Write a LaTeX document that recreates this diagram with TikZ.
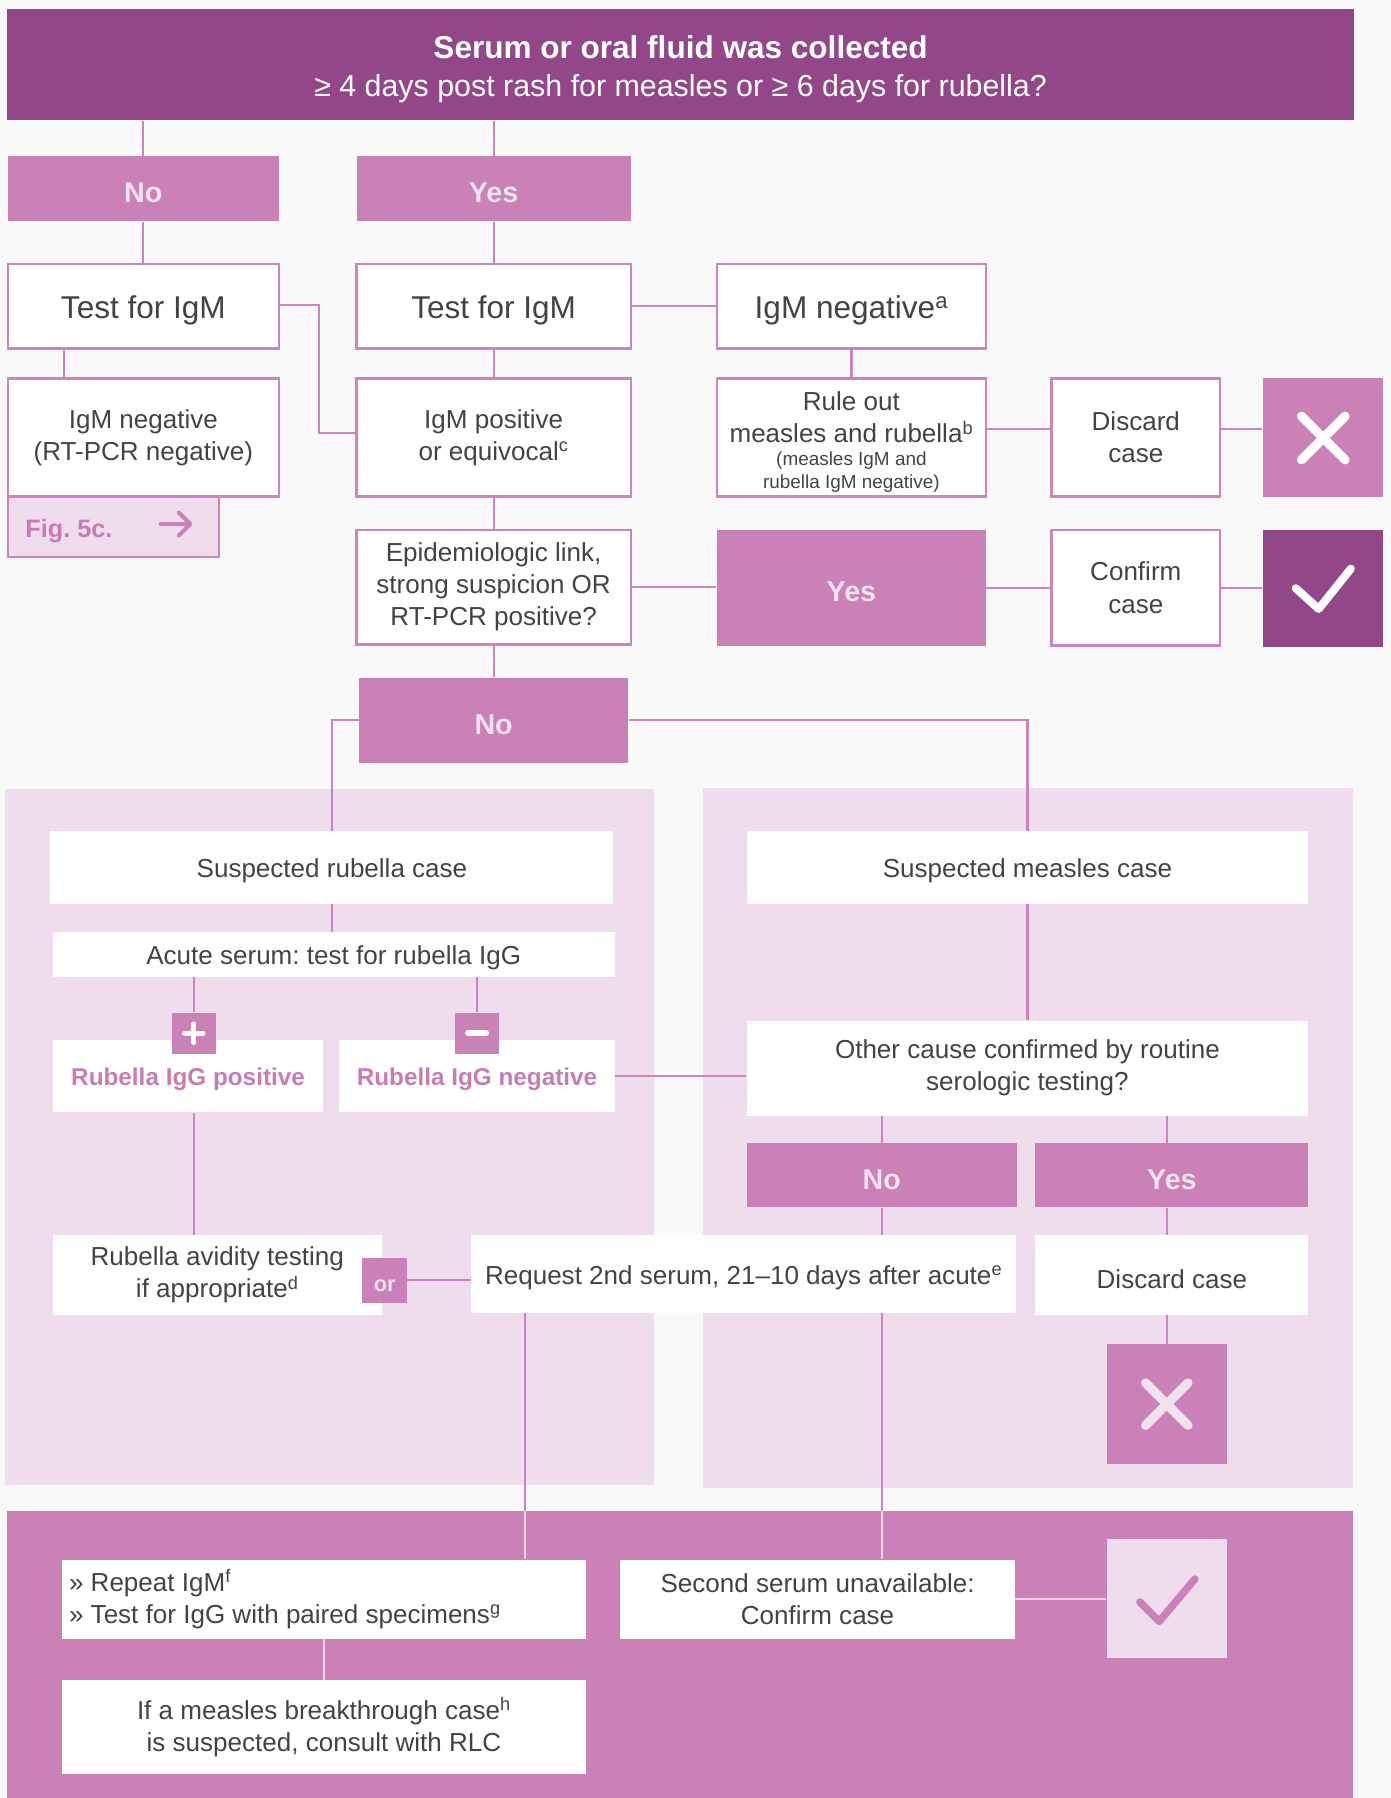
\documentclass[tikz,border=0pt]{standalone}
\usepackage{fontspec}
\setmainfont{Liberation Sans}
\frenchspacing
\definecolor{plum}{HTML}{924789}
\definecolor{orchid}{HTML}{C981B6}
\definecolor{blush}{HTML}{EFDDEE}
\definecolor{paper}{HTML}{F9F9F9}
\definecolor{ink}{HTML}{434343}
\definecolor{edge}{HTML}{CC85BC}
\definecolor{tagtext}{HTML}{F2E2EF}
\definecolor{pinktext}{HTML}{C77DB3}
\definecolor{softlink}{HTML}{EBD3E6}
\newcommand\sizeL{\fontsize{27.5}{32}\selectfont}
\newcommand\sizeM{\fontsize{22.7}{28}\selectfont}
\newcommand\sizeS{\fontsize{16.5}{21}\selectfont}
\tikzset{
  box/.style={inner sep=0pt, align=center, text=ink, font=\sizeM,
    execute at begin node={\rule{0pt}{1em}}},
  framed/.style={box, draw=edge, line width=2pt, fill=white},
  plain/.style={box, fill=white},
  tag/.style={box, fill=orchid, text=tagtext, font=\bfseries\fontsize{25}{30}\selectfont},
  iconbox/.style={inner sep=0pt, fill=orchid},
  link/.style={draw=edge, line width=2pt},
  softline/.style={draw=softlink, line width=2pt},
  glyph/.style={line width=8pt, line cap=round, line join=round},
  pinkbold/.style={box, text=pinktext, font=\bfseries\fontsize{21.2}{26}\selectfont},
}
\begin{document}
\begin{tikzpicture}[x=1pt,y=-1pt]
\useasboundingbox (0,0) rectangle (1213,1568);
\fill[paper] (0,0) rectangle (1213,1568);

% background panels
\fill[blush] (4,688) rectangle (570,1295);
\fill[blush] (613,687) rectangle (1180,1298);
\fill[orchid] (6,1318) rectangle (1180,1568);

% header
\node[inner sep=0pt, align=center, fill=plum, text=white, minimum width=1175, minimum height=97,
  font=\fontsize{26.5}{33}\selectfont]
  (banner) at (593.5,56.5)
  {{\rule{0pt}{28pt}\bfseries\fontsize{27.5}{33}\selectfont Serum or oral fluid was collected}\\
   {\fontsize{26.5}{33}\selectfont ≥ 4 days post rash for measles or ≥ 6 days for rubella?}};

% first decision row
\node[tag, minimum width=236, minimum height=57] (noA) at (125,164.5) {No};
\node[tag, minimum width=239, minimum height=57] (yesA) at (430.5,164.5) {Yes};

\node[framed, font=\sizeL, minimum width=236, minimum height=74] (testL) at (125,267) {Test for IgM};
\node[framed, font=\sizeL, minimum width=239, minimum height=74] (testC) at (430.5,267) {Test for IgM};
\node[framed, font=\sizeL, minimum width=235, minimum height=74] (negA) at (742.5,267) {IgM negative\textsuperscript{a}};

\node[framed, minimum width=236, minimum height=103] (negL) at (125,381.5) {IgM negative\\(RT-PCR negative)};
\node[framed, fill=blush, minimum width=184, minimum height=53] (fig) at (99,459.5) {};
\node[box, anchor=west, text=pinktext, font=\bfseries\fontsize{22}{26}\selectfont] (figtext) at (22,460) {Fig. 5c.};
\draw[orchid, line width=3.5pt, line cap=round, line join=round]
  (140,457) -- (166,457) (156,447) -- (166,457) -- (156,467);

\node[framed, minimum width=239, minimum height=103] (posC) at (430.5,381.5) {IgM positive\\or equivocal\textsuperscript{c}};
\node[framed, minimum width=235, minimum height=103] (rule) at (742.5,381.5)
  {\rule{0pt}{25pt}Rule out\\measles and rubella\textsuperscript{b}\\[-8pt]{\sizeS (measles IgM and}\\[-8pt]{\sizeS rubella IgM negative)}};
\node[framed, minimum width=147, minimum height=103] (disc1) at (990.5,381.5) {Discard\\case};
\node[iconbox, minimum width=105, minimum height=103] (xbox1) at (1153.5,381.5) {};
\draw[glyph, white] (1135,363) -- (1173,401) (1173,363) -- (1135,401);

\node[framed, minimum width=239, minimum height=100] (epi) at (430.5,512)
  {Epidemiologic link,\\strong suspicion OR\\RT-PCR positive?};
\node[tag, minimum width=235, minimum height=101] (yesB) at (742.5,512.5) {Yes};
\node[framed, minimum width=147, minimum height=101] (conf) at (990.5,512.5) {Confirm\\case};
\node[inner sep=0pt, fill=plum, minimum width=105, minimum height=102] (chk1) at (1153.5,513) {};
\draw[glyph, white, line width=7pt] (1130,513) -- (1150,531) -- (1178,496);

\node[tag, minimum width=235, minimum height=74] (noB) at (430.5,628) {No};

% rubella branch
\node[plain, minimum width=491, minimum height=63] (susR) at (289.5,756.5) {Suspected rubella case};
\node[plain, minimum width=490, minimum height=39] (acute) at (291,832.5) {Acute serum: test for rubella IgG};
\node[plain, pinkbold, minimum width=236, minimum height=63] (rpos) at (164,938.5) {Rubella IgG positive};
\node[plain, pinkbold, minimum width=240, minimum height=63] (rneg) at (416,938.5) {Rubella IgG negative};
\node[iconbox, minimum width=38, minimum height=36] (plus) at (169,901) {};
\draw[white, line width=4.5pt, line cap=round] (161,901) -- (177,901) (169,893) -- (169,909);
\node[iconbox, minimum width=38, minimum height=36] (minus) at (416,901) {};
\draw[white, line width=5pt, line cap=round] (408,901) -- (424,901);

\node[plain, minimum width=287, minimum height=70] (avid) at (189.5,1112)
  {Rubella avidity testing\\if appropriate\textsuperscript{d}};
\node[box, fill=orchid, minimum width=39, minimum height=39, text=tagtext,
  font=\bfseries\fontsize{19}{22}\selectfont] (orb) at (335.5,1116.5) {or};
\node[plain, minimum width=475, minimum height=68] (req) at (648.5,1111)
  {Request 2nd serum, 21--10 days after acute\textsuperscript{e}};

% measles branch
\node[plain, minimum width=490, minimum height=63] (susM) at (896,756.5) {Suspected measles case};
\node[plain, minimum width=490, minimum height=83] (other) at (896,931.5)
  {Other cause confirmed by routine\\serologic testing?};
\node[tag, minimum width=236, minimum height=56] (noC) at (769,1025) {No};
\node[tag, minimum width=238, minimum height=56] (yesC) at (1022,1025) {Yes};
\node[plain, minimum width=238, minimum height=70] (disc2) at (1022,1112) {Discard case};
\node[iconbox, minimum width=105, minimum height=105] (xbox2) at (1017.5,1224.5) {};
\draw[glyph, tagtext] (999,1206) -- (1036,1243) (1036,1206) -- (999,1243);

% follow-up band
\node[plain, minimum width=457, minimum height=69] (rep) at (282.5,1394.5) {};
\node[box, anchor=west, align=left] (reptext) at (60,1394.5)
  {» Repeat IgM\textsuperscript{f}\\» Test for IgG with paired specimens\textsuperscript{g}};
\node[plain, minimum width=344, minimum height=69] (sec) at (713,1394.5)
  {Second serum unavailable:\\Confirm case};
\node[inner sep=0pt, fill=blush, minimum width=105, minimum height=104] (chk2) at (1017.5,1394) {};
\draw[glyph, orchid, line width=6.5pt] (994,1397) -- (1011,1414) -- (1042,1377);
\node[plain, minimum width=457, minimum height=82] (brk) at (282.5,1506)
  {If a measles breakthrough case\textsuperscript{h}\\is suspected, consult with RLC};

\coordinate (bandA) at (458,1318);
\coordinate (bandB) at (769,1318);

% connectors
\draw[link] (noA.north |- banner.south) -- (noA.north);
\draw[link] (yesA.north |- banner.south) -- (yesA.north);
\draw[link] (noA.south) -- (testL.north);
\draw[link] (yesA.south) -- (testC.north);
\draw[link] ([xshift=-69pt]testL.south) -- ([xshift=-69pt]negL.north);
\draw[link] ([yshift=1pt]testL.east) -- ++(34,0) |- ([yshift=4pt]posC.west);
\draw[link] (testC.east) -- (negA.west);
\draw[link] (testC.south) -- (posC.north);
\draw[link] (negA.south) -- (rule.north);
\draw[link] ([yshift=7.5pt]rule.east) -- ([yshift=7.5pt]disc1.west);
\draw[link] ([yshift=7.5pt]disc1.east) -- ([yshift=7.5pt]xbox1.west);
\draw[link] (posC.south) -- (epi.north);
\draw[link] (epi.east) -- (yesB.west |- epi.east);
\draw[link] (yesB.east) -- (conf.west);
\draw[link] (conf.east) -- (chk1.west |- conf.east);
\draw[link] (epi.south) -- (noB.north);
\draw[link] (noB.west) -| (susR.north);
\draw[link] (noB.east) -| (susM.north);
\draw[link] (susR.south) -- (susR.south |- acute.north);
\draw[link] (plus.north |- acute.south) -- (plus.north);
\draw[link] (minus.north |- acute.south) -- (minus.north);
\draw[link] (plus.north |- rpos.south) -- (plus.north |- avid.north);
\draw[link] (rneg.east) -- (rneg.east -| other.west);
\draw[link] (susM.south) -- (other.north);
\draw[link] (noC.north |- other.south) -- (noC.north);
\draw[link] (xbox2.north |- other.south) -- (xbox2.north |- yesC.north);
\draw[link] (noC.south) -- (noC.south |- req.north);
\draw[link] (xbox2.north |- yesC.south) -- (xbox2.north |- disc2.north);
\draw[link] (xbox2.north |- disc2.south) -- (xbox2.north);
\draw[link] (orb.east) -- (orb.east -| req.west);
\draw[link] (req.south -| bandA) -- (bandA);
\draw[softline] (bandA) -- (bandA |- rep.north);
\draw[link] (req.south -| bandB) -- (bandB);
\draw[softline] (bandB) -- (bandB |- sec.north);
\draw[softline] (sec.east) -- (sec.east -| chk2.west);
\draw[softline] (rep.south) -- (brk.north);
\end{tikzpicture}
\end{document}
